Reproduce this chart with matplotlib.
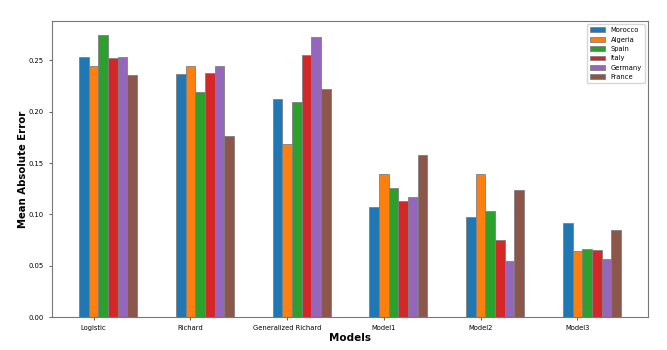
import numpy as np
import matplotlib.pyplot as plt

models = ['Logistic', 'Richard', 'Generalized Richard', 'Model1', 'Model2', 'Model3']
countries = ['Morocco', 'Algeria', 'Spain', 'Italy', 'Germany', 'France']

morocco = [0.253, 0.2364, 0.2127, 0.1068, 0.0977, 0.0916]
algeria = [0.2445, 0.2442, 0.1682, 0.139, 0.139, 0.0643]
spain = [0.2747, 0.2192, 0.2091, 0.126, 0.1032, 0.0662]
italy = [0.2526, 0.2377, 0.2549, 0.113, 0.0753, 0.0653]
germany = [0.2536, 0.2445, 0.2727, 0.1172, 0.0542, 0.0568]
france = [0.2357, 0.176, 0.2218, 0.1575, 0.1237, 0.0844]

series = [morocco, algeria, spain, italy, germany, france]

bar_width = 0.1
r = np.arange(len(models))

fig = plt.figure(figsize=(6.67, 3.5), dpi=100)
ax = fig.add_axes([0.078, 0.094, 0.8935, 0.846])

for i, (name, vals) in enumerate(zip(countries, series)):
    ax.bar(r + i * bar_width, vals, width=bar_width, color='C%d' % i,
           edgecolor='grey', linewidth=0.6, label=name)

ax.set_xticks(r + bar_width)
ax.set_xticklabels(models)
ax.tick_params(labelsize=4.9, length=2.5, width=0.6, color='#444444')
ax.set_xlabel('Models', fontweight='bold', fontsize=7.5, labelpad=1)
ax.set_ylabel('Mean Absolute Error', fontweight='bold', fontsize=7.3, labelpad=0)
for s in ax.spines.values():
    s.set_color('#777777')
    s.set_linewidth(0.8)
ax.legend(loc='upper right', fontsize=4.9, handlelength=2.3, labelspacing=0.5)

plt.savefig('out.png', dpi=100)
